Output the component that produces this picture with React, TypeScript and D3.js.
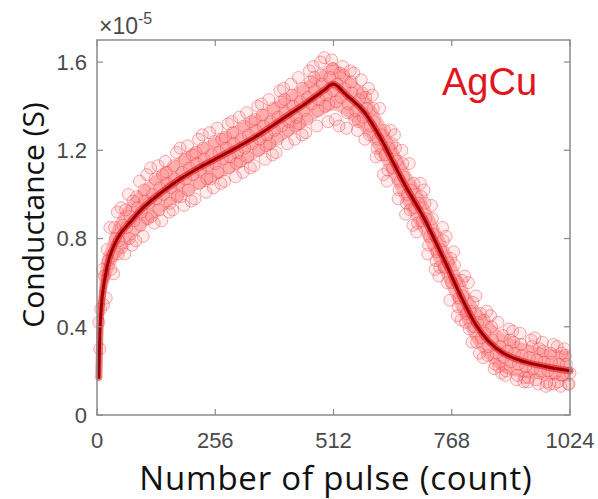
import React from "react";
import * as d3 from "d3";

const xTicks = [0, 256, 512, 768, 1024];
const yTicks = [0, 0.4, 0.8, 1.2, 1.6];
const yTickLabels = ["0", "0.4", "0.8", "1.2", "1.6"];

// fitted curve (x1e-5 S)
const fitX = [4, 6, 8, 12, 18, 25, 35, 50, 70, 100, 140, 180, 220, 256, 300, 350, 400, 450, 490, 512, 540, 576, 610, 640, 670, 706, 750, 792, 820, 850, 880, 920, 970, 1024];
const fitY = [0.17, 0.35, 0.45, 0.55, 0.63, 0.70, 0.76, 0.82, 0.87, 0.94, 1.01, 1.07, 1.12, 1.16, 1.21, 1.27, 1.34, 1.41, 1.47, 1.50, 1.45, 1.38, 1.27, 1.15, 1.03, 0.90, 0.71, 0.52, 0.41, 0.33, 0.28, 0.245, 0.22, 0.20];

// density band of the measured points
const bandX = [4, 10, 20, 40, 70, 100, 150, 200, 256, 300, 350, 400, 450, 490, 512, 540, 576, 610, 640, 670, 706, 750, 792, 820, 850, 880, 920, 970, 1024];
const bandLo = [0.2, 0.40, 0.55, 0.68, 0.77, 0.84, 0.93, 1.00, 1.06, 1.11, 1.17, 1.24, 1.31, 1.36, 1.38, 1.35, 1.28, 1.17, 1.05, 0.93, 0.80, 0.61, 0.42, 0.31, 0.24, 0.19, 0.17, 0.16, 0.15];
const bandHi = [0.55, 0.70, 0.76, 0.88, 0.97, 1.04, 1.13, 1.20, 1.26, 1.31, 1.37, 1.44, 1.51, 1.57, 1.60, 1.55, 1.48, 1.37, 1.25, 1.13, 1.00, 0.81, 0.62, 0.51, 0.43, 0.37, 0.33, 0.30, 0.29];

// measured points, pulses 4, 12, 20, ... (step 8)
const measA = [
  0.42, 0.66, 0.53, 0.85, 0.64, 0.92, 0.94, 0.73, 1.00, 0.77, 0.79, 1.06, 0.81, 1.09, 1.12, 0.87,
  1.13, 0.88, 1.15, 0.92, 0.93, 1.19, 1.21, 0.95, 1.22, 0.97, 0.98, 1.25, 1.27, 1.01, 1.28, 1.03,
  1.30, 1.05, 1.06, 1.32, 1.33, 1.08, 1.35, 1.10, 1.37, 1.12, 1.13, 1.40, 1.41, 1.16, 1.43, 1.18,
  1.19, 1.47, 1.48, 1.23, 1.50, 1.25, 1.53, 1.27, 1.28, 1.56, 1.58, 1.31, 1.60, 1.62, 1.33, 1.61,
  1.34, 1.31, 1.58, 1.30, 1.56, 1.55, 1.29, 1.52, 1.25, 1.48, 1.45, 1.17, 1.39, 1.09, 1.06, 1.29,
  1.27, 0.98, 1.20, 0.91, 1.14, 0.86, 0.83, 1.05, 1.02, 0.73, 0.95, 0.66, 0.63, 0.85, 0.81, 0.52,
  0.74, 0.45, 0.43, 0.63, 0.60, 0.33, 0.54, 0.28, 0.26, 0.47, 0.45, 0.21, 0.42, 0.19, 0.18, 0.39,
  0.38, 0.16, 0.37, 0.15, 0.15, 0.34, 0.35, 0.14, 0.33, 0.13, 0.14, 0.32, 0.31, 0.13, 0.30, 0.14,
];
// measured points, pulses 8, 16, 24, ... (step 8)
const measB = [
  0.48, 0.63, 0.70, 0.72, 0.80, 0.79, 0.86, 0.85, 0.90, 0.88, 0.94, 0.92, 0.97, 0.96, 1.00, 0.98,
  1.03, 1.00, 1.05, 1.03, 1.07, 1.05, 1.10, 1.07, 1.12, 1.09, 1.14, 1.11, 1.16, 1.13, 1.18, 1.14,
  1.19, 1.16, 1.21, 1.17, 1.23, 1.19, 1.25, 1.21, 1.27, 1.23, 1.29, 1.25, 1.31, 1.27, 1.33, 1.29,
  1.35, 1.31, 1.37, 1.33, 1.40, 1.35, 1.42, 1.38, 1.44, 1.41, 1.47, 1.43, 1.50, 1.45, 1.53, 1.47,
  1.50, 1.44, 1.48, 1.41, 1.46, 1.38, 1.43, 1.35, 1.39, 1.31, 1.33, 1.25, 1.27, 1.18, 1.21, 1.12,
  1.15, 1.06, 1.08, 1.00, 1.02, 0.94, 0.96, 0.88, 0.89, 0.81, 0.82, 0.74, 0.75, 0.67, 0.69, 0.60,
  0.61, 0.53, 0.54, 0.46, 0.47, 0.40, 0.42, 0.35, 0.37, 0.31, 0.34, 0.28, 0.31, 0.26, 0.29, 0.24,
  0.28, 0.23, 0.27, 0.22, 0.26, 0.21, 0.25, 0.20, 0.24, 0.20, 0.24, 0.19, 0.23, 0.18, 0.23, 0.19,
];
// measured points, pulses 6, 14, 22, ... (step 8)
const measC = [
  0.30, 0.50, 0.75, 0.66, 0.85, 0.73, 0.76, 0.93, 0.80, 0.97, 0.99, 0.86, 1.02, 0.89, 0.90, 1.07,
  0.93, 1.09, 1.10, 0.96, 1.13, 0.99, 0.99, 1.16, 1.02, 1.18, 1.19, 1.05, 1.21, 1.07, 1.07, 1.24,
  1.10, 1.25, 1.26, 1.12, 1.28, 1.14, 1.15, 1.31, 1.17, 1.33, 1.34, 1.20, 1.36, 1.22, 1.23, 1.39,
  1.25, 1.42, 1.43, 1.29, 1.45, 1.31, 1.32, 1.48, 1.34, 1.51, 1.53, 1.38, 1.54, 1.40, 1.41, 1.57,
  1.42, 1.55, 1.54, 1.37, 1.51, 1.34, 1.33, 1.46, 1.44, 1.27, 1.39, 1.21, 1.18, 1.29, 1.11, 1.23,
  1.21, 1.02, 1.14, 0.96, 0.93, 1.05, 0.87, 0.99, 0.96, 0.77, 0.89, 0.70, 0.67, 0.79, 0.60, 0.71,
  0.68, 0.49, 0.61, 0.42, 0.39, 0.51, 0.33, 0.46, 0.43, 0.27, 0.40, 0.23, 0.22, 0.36, 0.20, 0.34,
  0.33, 0.18, 0.32, 0.17, 0.17, 0.31, 0.16, 0.30, 0.29, 0.15, 0.28, 0.14, 0.15, 0.28, 0.27, 0.14,
];

const W = 598;
const H = 499;
const L = 97, R = 570, T = 40, B = 415;

export default function App() {
  const x = d3.scaleLinear().domain([0, 1024]).range([L, R]);
  const y = d3.scaleLinear().domain([0, 1.7]).range([B, T]);

  const pointsA = measA.map((v, i) => [4 + 8 * i, v] as [number, number]);
  const pointsB = measB.map((v, i) => [8 + 8 * i, v] as [number, number]);
  const pointsC = measC.map((v, i) => [6 + 8 * i, v] as [number, number]);
  const pts = [...pointsA, ...pointsC, ...pointsB];

  const band = d3
    .area<number>()
    .x((_, i) => x(bandX[i]))
    .y0((_, i) => y(bandLo[i]))
    .y1((_, i) => y(bandHi[i]))
    .curve(d3.curveCatmullRom);
  const line = d3
    .line<number>()
    .x((_, i) => x(fitX[i]))
    .y((d) => y(d))
    .curve(d3.curveCatmullRom);

  const axisColor = "#8a8a8a";
  const tickColor = "#4a4a4a";
  const tl = 6;

  return (
    <svg width={W} height={H} style={{ position: "absolute", left: 0, top: 0, background: "#fff" }}>
      <path d={band(bandLo) || ""} fill="#ff8080" opacity={0.55} />
      <g>
        {pts.map((p, i) => (
          <circle key={i} cx={x(p[0])} cy={y(p[1])} r={6} fill="rgba(255,110,110,0.14)" stroke="rgba(236,70,80,0.45)" strokeWidth={1} />
        ))}
      </g>
      <path d={line(fitY) || ""} fill="none" stroke="#e41a22" strokeWidth={7} opacity={0.6} strokeLinecap="round" />
      <path d={line(fitY) || ""} fill="none" stroke="#9a0000" strokeWidth={3} strokeLinecap="round" />

      {/* axes box */}
      <rect x={L} y={T} width={R - L} height={B - T} fill="none" stroke={axisColor} strokeWidth={1.5} />
      {xTicks.map((t, i) => (
        <g key={"x" + i}>
          <line x1={x(t)} x2={x(t)} y1={B} y2={B - tl} stroke={axisColor} strokeWidth={1.2} />
          <line x1={x(t)} x2={x(t)} y1={T} y2={T + tl} stroke={axisColor} strokeWidth={1.2} />
          <text x={x(t)} y={448} textAnchor="middle" fontFamily="Liberation Sans, Arial, sans-serif" fontSize={22} fill={tickColor}>
            {t}
          </text>
        </g>
      ))}
      {yTicks.map((t, i) => (
        <g key={"y" + i}>
          <line x1={L} x2={L + tl} y1={y(t)} y2={y(t)} stroke={axisColor} strokeWidth={1.2} />
          <line x1={R} x2={R - tl} y1={y(t)} y2={y(t)} stroke={axisColor} strokeWidth={1.2} />
          <text x={87} y={y(t)} dy="0.36em" textAnchor="end" fontFamily="Liberation Sans, Arial, sans-serif" fontSize={22} fill={tickColor}>
            {yTickLabels[i]}
          </text>
        </g>
      ))}
      <text x={99} y={34} fontFamily="Liberation Sans, Arial, sans-serif" fontSize={23} fill={tickColor}>
        ×10<tspan dy={-10} fontSize={16}>-5</tspan>
      </text>
      <text x={442} y={95} fontFamily="Liberation Sans, Arial, sans-serif" fontSize={38} fill="#e2141e">
        AgCu
      </text>
      <text x={336} y={490} textAnchor="middle" fontFamily="Open Sans, sans-serif" fontSize={33} letterSpacing={0.8} fill="#111">
        Number of pulse (count)
      </text>
      <text transform={`translate(44,215) rotate(-90)`} textAnchor="middle" fontFamily="Open Sans, sans-serif" fontSize={30} fill="#111">
        Conductance (S)
      </text>
    </svg>
  );
}
